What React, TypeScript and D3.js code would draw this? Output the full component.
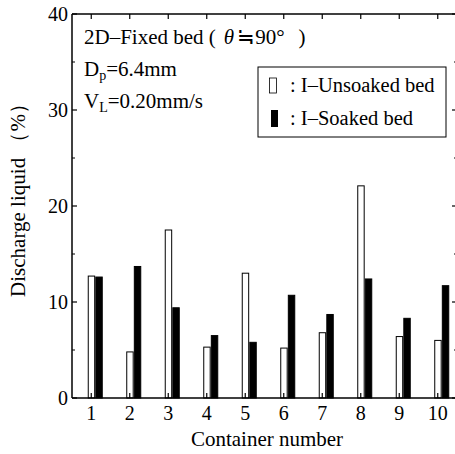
import React from "react";
import * as d3 from "d3";

const categories = ["1", "2", "3", "4", "5", "6", "7", "8", "9", "10"];
const seriesNames = ["I–Unsoaked bed", "I–Soaked bed"];
const unsoaked = [12.7, 4.8, 17.5, 5.3, 13.0, 5.2, 6.8, 22.1, 6.4, 6.0];
const soaked = [12.6, 13.7, 9.4, 6.5, 5.8, 10.7, 8.7, 12.4, 8.3, 11.7];
const majorTicks = [0, 10, 20, 30, 40];
const minorTicks = [5, 15, 25, 35];

const W = 455;
const H = 454;
const M = { left: 72, right: 457, top: 14, bottom: 398 };
const FONT = "Liberation Serif";

export default function App() {
  const x = d3.scaleBand<string>().domain(categories).range([M.left, M.right]);
  const x1 = d3.scaleBand<string>().domain(seriesNames).range([-3, 11]).paddingInner(0.15);
  const y = d3.scaleLinear().domain([0, 40]).range([M.bottom, M.top]);
  const cx = (c: string) => (x(c) ?? 0) + x.bandwidth() / 2;
  const data = [unsoaked, soaked];
  const ts = { fontFamily: FONT };

  return (
    <svg width={W} height={H} style={{ position: "absolute", left: 0, top: 0, background: "#fff" }}>
      <rect x={0} y={0} width={W} height={H} fill="#fff" />
      {data.map((vals, si) =>
        vals.map((v, i) => (
          <rect
            key={`${si}-${i}`}
            x={cx(categories[i]) + (x1(seriesNames[si]) ?? 0)}
            y={y(v)}
            width={x1.bandwidth()}
            height={y(0) - y(v)}
            fill={si === 0 ? "#fff" : "#000"}
            stroke="#000"
            strokeWidth={1}
          />
        ))
      )}
      <line x1={M.left} x2={M.left} y1={M.top} y2={M.bottom} stroke="#000" strokeWidth={1.5} />
      <line x1={M.left} x2={M.right} y1={M.bottom} y2={M.bottom} stroke="#000" strokeWidth={1.5} />
      <line x1={M.left} x2={M.right} y1={M.top} y2={M.top} stroke="#000" strokeWidth={1.5} />
      <line x1={M.right} x2={M.right} y1={M.top} y2={M.bottom} stroke="#000" strokeWidth={1.5} />
      {majorTicks.map((t) => (
        <g key={`mj${t}`}>
          <line x1={M.left} x2={M.left + 5} y1={y(t)} y2={y(t)} stroke="#000" strokeWidth={1.2} />
          <line x1={M.right} x2={M.right - 5} y1={y(t)} y2={y(t)} stroke="#000" strokeWidth={1.2} />
          <text style={ts} x={M.left - 4} y={y(t)} dy="0.35em" textAnchor="end" fontSize={20}>
            {t}
          </text>
        </g>
      ))}
      {minorTicks.map((t) => (
        <g key={`mn${t}`}>
          <line x1={M.left} x2={M.left + 3} y1={y(t)} y2={y(t)} stroke="#000" strokeWidth={1} />
          <line x1={M.right} x2={M.right - 3} y1={y(t)} y2={y(t)} stroke="#000" strokeWidth={1} />
        </g>
      ))}
      {categories.map((c) => (
        <g key={`x${c}`}>
          <line x1={cx(c)} x2={cx(c)} y1={M.top} y2={M.top + 5} stroke="#000" strokeWidth={1.2} />
          <line x1={cx(c)} x2={cx(c)} y1={M.bottom} y2={M.bottom - 5} stroke="#000" strokeWidth={1.2} />
          <text style={ts} x={cx(c)} y={M.bottom + 22} textAnchor="middle" fontSize={20}>
            {c}
          </text>
        </g>
      ))}
      <text style={ts} x={267} y={446} textAnchor="middle" fontSize={21}>
        Container number
      </text>
      <text
        style={ts}
        transform={`translate(25, 195) rotate(-90)`}
        textAnchor="middle"
        fontSize={21}
      >
        Discharge liquid （%）
      </text>
      <text style={ts} x={84} y={44} fontSize={21}>
        2D–Fixed bed (
        <tspan fontStyle="italic" dx={8}>θ</tspan>
        <tspan dx={3}>≒90°</tspan>
        <tspan dx={14}>)</tspan>
      </text>
      <text style={ts} x={84} y={76} fontSize={21}>
        D<tspan fontSize={14} dy={4}>p</tspan>
        <tspan dy={-4}>=6.4mm</tspan>
      </text>
      <text style={ts} x={84} y={108} fontSize={21}>
        V<tspan fontSize={14} dy={4}>L</tspan>
        <tspan dy={-4}>=0.20mm/s</tspan>
      </text>
      <rect x={258} y={67} width={188} height={70} fill="#fff" stroke="#000" strokeWidth={1} />
      <rect x={269.5} y={78} width={7} height={15} fill="#fff" stroke="#000" strokeWidth={0.8} />
      <rect x={271} y={110} width={7} height={17} fill="#000" />
      <text style={ts} x={290} y={92} fontSize={20.5}>
        : {seriesNames[0]}
      </text>
      <text style={ts} x={290} y={125} fontSize={20.5}>
        : {seriesNames[1]}
      </text>
    </svg>
  );
}
